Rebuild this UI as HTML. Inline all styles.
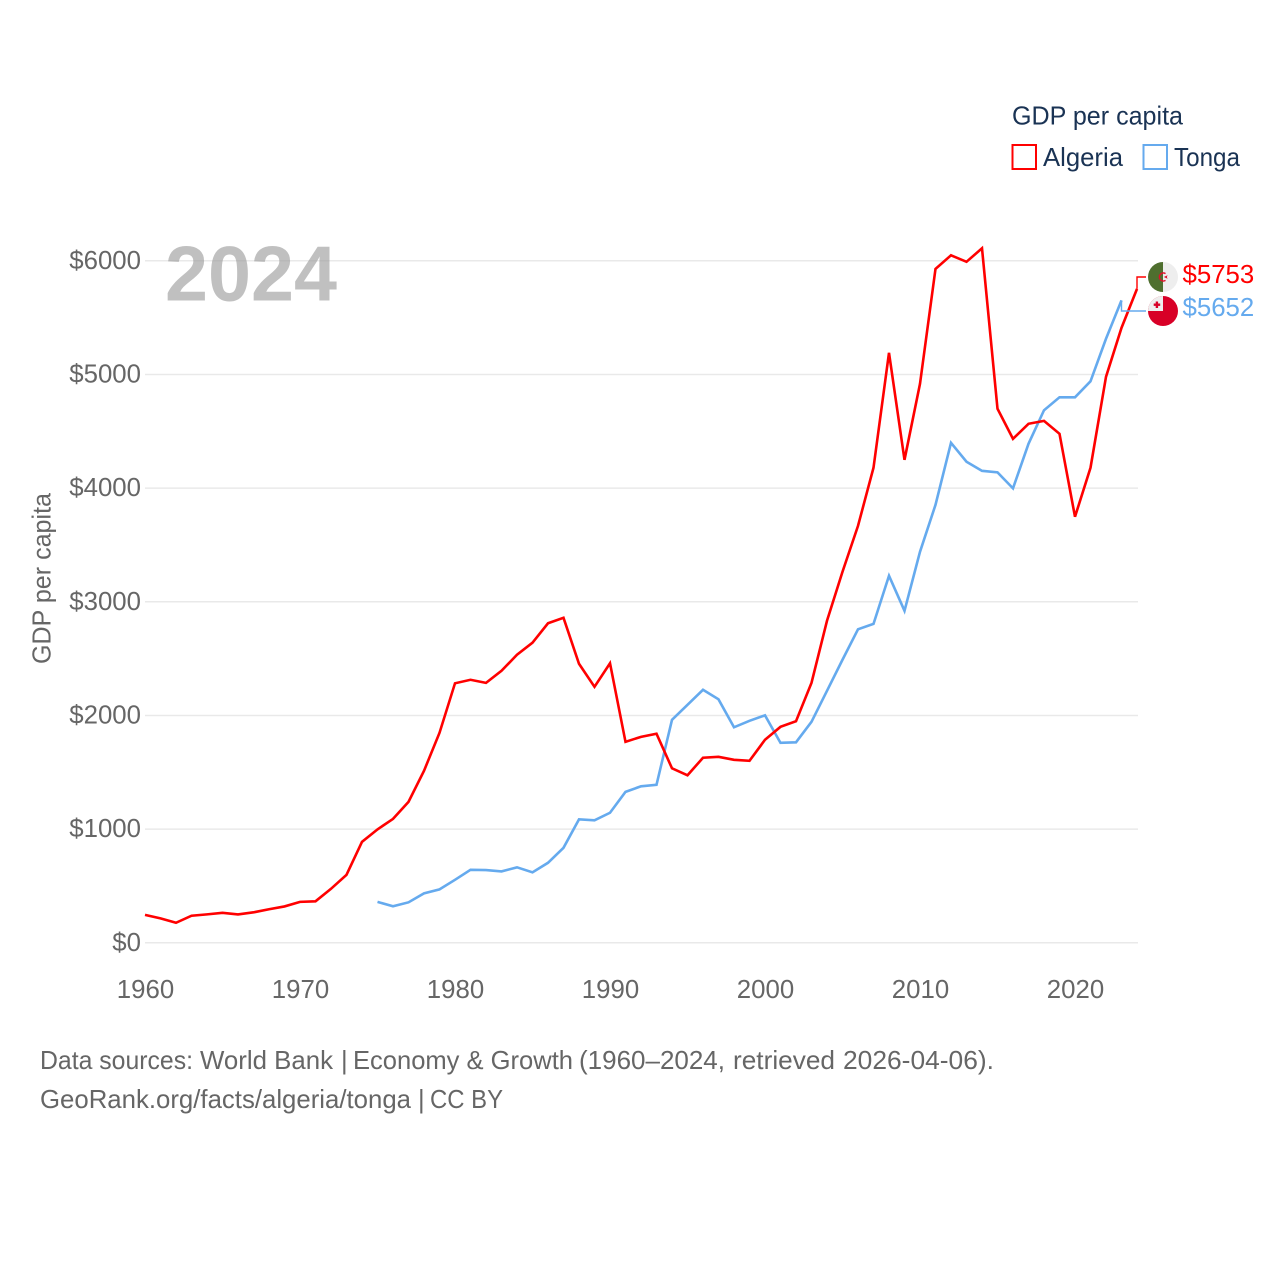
<!DOCTYPE html>
<html lang="en">
<head>
<meta charset="utf-8">
<title>GDP per capita: Algeria and Tonga</title>
<style>
html,body{margin:0;padding:0;background:#fff;width:1280px;height:1280px;overflow:hidden}
svg{display:block}
text{font-family:"Liberation Sans",sans-serif}
.tick{font-size:25.8px;fill:#666}
.leg{font-size:25.6px;fill:#1a3354}
.foot{font-size:25.6px;fill:#666}
</style>
</head>
<body>
<svg id="chart" xmlns="http://www.w3.org/2000/svg" width="1280" height="1280" viewBox="0 0 1280 1280">
  <rect width="1280" height="1280" fill="#fff"/>
  <g id="grid"></g>
  <g id="yticks"></g>
  <g id="xticks"></g>
  <text x="165" y="300.5" font-size="78" font-weight="bold" fill="#999" fill-opacity="0.62" textLength="172" lengthAdjust="spacingAndGlyphs">2024</text>
  <text class="tick" transform="translate(50.5,664) rotate(-90)" textLength="171" lengthAdjust="spacingAndGlyphs">GDP per capita</text>
  <g id="series"></g>

  <g>
    <text class="leg" x="1012" y="124.5" textLength="171" lengthAdjust="spacingAndGlyphs">GDP per capita</text>
    <rect x="1012.5" y="145" width="23.5" height="24" fill="#fff" stroke="#ff0000" stroke-width="2"/>
    <text class="leg" x="1043" y="166" textLength="80" lengthAdjust="spacingAndGlyphs">Algeria</text>
    <rect x="1143.5" y="145" width="23.5" height="24" fill="#fff" stroke="#65aaee" stroke-width="2"/>
    <text class="leg" x="1174" y="166" textLength="66" lengthAdjust="spacingAndGlyphs">Tonga</text>
  </g>

  <defs>
    <clipPath id="clip-dz"><circle cx="1163" cy="277" r="15"/></clipPath>
    <clipPath id="clip-to"><circle cx="1163" cy="311" r="15"/></clipPath>
  </defs>
  <g clip-path="url(#clip-dz)">
    <rect x="1148" y="262" width="15" height="30" fill="#4f6f2f"/>
    <rect x="1163" y="262" width="15" height="30" fill="#eeeeee"/>
    <path d="M1165.5 273.6 A4 4 0 1 0 1165.5 280.4" fill="none" stroke="#e0102a" stroke-width="1.5"/>
    <polygon points="1163.8,277 1167.6,275.2 1166.8,277 1167.6,278.8" fill="#e0102a"/>
  </g>
  <g clip-path="url(#clip-to)">
    <rect x="1148" y="296" width="30" height="30" fill="#d80027"/>
    <rect x="1148" y="296" width="15" height="15" fill="#eeeeee"/>
    <rect x="1155.7" y="301.5" width="2.4" height="6.5" fill="#d80027"/>
    <rect x="1153.7" y="303.5" width="6.5" height="2.4" fill="#d80027"/>
  </g>

  <text x="1182.5" y="283" font-size="25.8" fill="#ff0000">$5753</text>
  <text x="1182.5" y="316" font-size="25.8" fill="#65aaee">$5652</text>

  <g class="foot">
    <text class="foot" x="40" y="1069" textLength="153" lengthAdjust="spacingAndGlyphs">Data sources:</text>
    <text class="foot" x="200" y="1069" textLength="133" lengthAdjust="spacingAndGlyphs">World Bank</text>
    <text class="foot" x="341" y="1069">|</text>
    <text class="foot" x="353" y="1069" textLength="220" lengthAdjust="spacingAndGlyphs">Economy &amp; Growth</text>
    <text class="foot" x="579" y="1069" textLength="146" lengthAdjust="spacingAndGlyphs">(1960–2024,</text>
    <text class="foot" x="733" y="1069" textLength="102" lengthAdjust="spacingAndGlyphs">retrieved</text>
    <text class="foot" x="843" y="1069" textLength="151" lengthAdjust="spacingAndGlyphs">2026-04-06).</text>
  </g>
  <g>
    <text class="foot" x="40" y="1108" textLength="371" lengthAdjust="spacingAndGlyphs">GeoRank.org/facts/algeria/tonga</text>
    <text class="foot" x="418" y="1108">|</text>
    <text class="foot" x="430" y="1108" textLength="73" lengthAdjust="spacingAndGlyphs">CC BY</text>
  </g>
</svg>
<script>
const algeriaStart = 1960;
const algeriaValues = [246,215,176,238,250,264,250,268,295,320,360,365,475,598,888,998,1090,1240,1513,1847,2283,2314,2287,2393,2534,2640,2811,2859,2455,2252,2459,1768,1812,1839,1535,1474,1628,1636,1610,1601,1786,1900,1949,2287,2833,3264,3668,4179,5190,4249,4918,5929,6048,5991,6110,4698,4434,4566,4592,4478,3748,4179,4979,5410,5753];
const tongaStart = 1975;
const tongaValues = [360,321,356,435,470,554,642,640,628,664,620,704,836,1086,1078,1144,1328,1377,1390,1962,2094,2226,2142,1896,1953,2001,1759,1764,1944,2217,2490,2758,2806,3229,2921,3440,3853,4399,4232,4152,4139,3998,4390,4685,4799,4799,4940,5314,5652];
const yTicks = [0,1000,2000,3000,4000,5000,6000];
const xTicks = [1960,1970,1980,1990,2000,2010,2020];

const NS = 'http://www.w3.org/2000/svg';
const xScale = function (year) { return 145 + (year - 1960) * 15.5; };
const yScale = function (value) { return 942.8 - value * 0.11367; };
const gridGroup = document.getElementById('grid');
const yTickGroup = document.getElementById('yticks');
const xTickGroup = document.getElementById('xticks');
const seriesGroup = document.getElementById('series');

yTicks.forEach(function (v) {
  const line = document.createElementNS(NS, 'line');
  
  
  line.setAttribute('x1', 145);
  line.setAttribute('x2', 1138);
  line.setAttribute('y1', yScale(v));
  line.setAttribute('y2', yScale(v));
  line.setAttribute('stroke', '#e9e9e9');
  line.setAttribute('stroke-width', '1.5');
  gridGroup.appendChild(line);

  const label = document.createElementNS(NS, 'text');
  
  
  label.setAttribute('class', 'tick');
  label.setAttribute('x', 141);
  label.setAttribute('y', yScale(v) + 8);
  label.setAttribute('text-anchor', 'end');
  label.textContent = '$' + v;
  yTickGroup.appendChild(label);
});

xTicks.forEach(function (year) {
  const label = document.createElementNS(NS, 'text');
  
  
  label.setAttribute('class', 'tick');
  label.setAttribute('x', xScale(year) + 0.5);
  label.setAttribute('y', 998);
  label.setAttribute('text-anchor', 'middle');
  label.textContent = String(year);
  xTickGroup.appendChild(label);
});

function pathFor(start, values) {
  return values.map(function (v, i) {
    return (i ? 'L' : 'M') + xScale(start + i).toFixed(2) + ' ' + yScale(v).toFixed(2);
  }).join(' ');
}

const tongaLine = document.createElementNS(NS, 'path');


tongaLine.setAttribute('d', pathFor(tongaStart, tongaValues));
tongaLine.setAttribute('fill', 'none');
tongaLine.setAttribute('stroke', '#65aaee');
tongaLine.setAttribute('stroke-width', '2.6');
tongaLine.setAttribute('stroke-linejoin', 'miter');
seriesGroup.appendChild(tongaLine);

const algeriaLine = document.createElementNS(NS, 'path');


algeriaLine.setAttribute('d', pathFor(algeriaStart, algeriaValues));
algeriaLine.setAttribute('fill', 'none');
algeriaLine.setAttribute('stroke', '#ff0000');
algeriaLine.setAttribute('stroke-width', '2.6');
algeriaLine.setAttribute('stroke-linejoin', 'miter');
seriesGroup.appendChild(algeriaLine);

const tongaLastX = xScale(tongaStart + tongaValues.length - 1);
const tongaLastY = yScale(tongaValues[tongaValues.length - 1]);
const tongaConnector = document.createElementNS(NS, 'path');


tongaConnector.setAttribute('d', 'M' + tongaLastX + ' ' + tongaLastY + ' V311 H1146');
tongaConnector.setAttribute('fill', 'none');
tongaConnector.setAttribute('stroke', '#65aaee');
tongaConnector.setAttribute('stroke-width', '1.4');
seriesGroup.appendChild(tongaConnector);

const algeriaLastX = xScale(algeriaStart + algeriaValues.length - 1);
const algeriaLastY = yScale(algeriaValues[algeriaValues.length - 1]);
const algeriaConnector = document.createElementNS(NS, 'path');


algeriaConnector.setAttribute('d', 'M' + algeriaLastX + ' ' + algeriaLastY + ' V277 H1146');
algeriaConnector.setAttribute('fill', 'none');
algeriaConnector.setAttribute('stroke', '#ff0000');
algeriaConnector.setAttribute('stroke-width', '1.4');
seriesGroup.appendChild(algeriaConnector);
</script>
</body>
</html>
